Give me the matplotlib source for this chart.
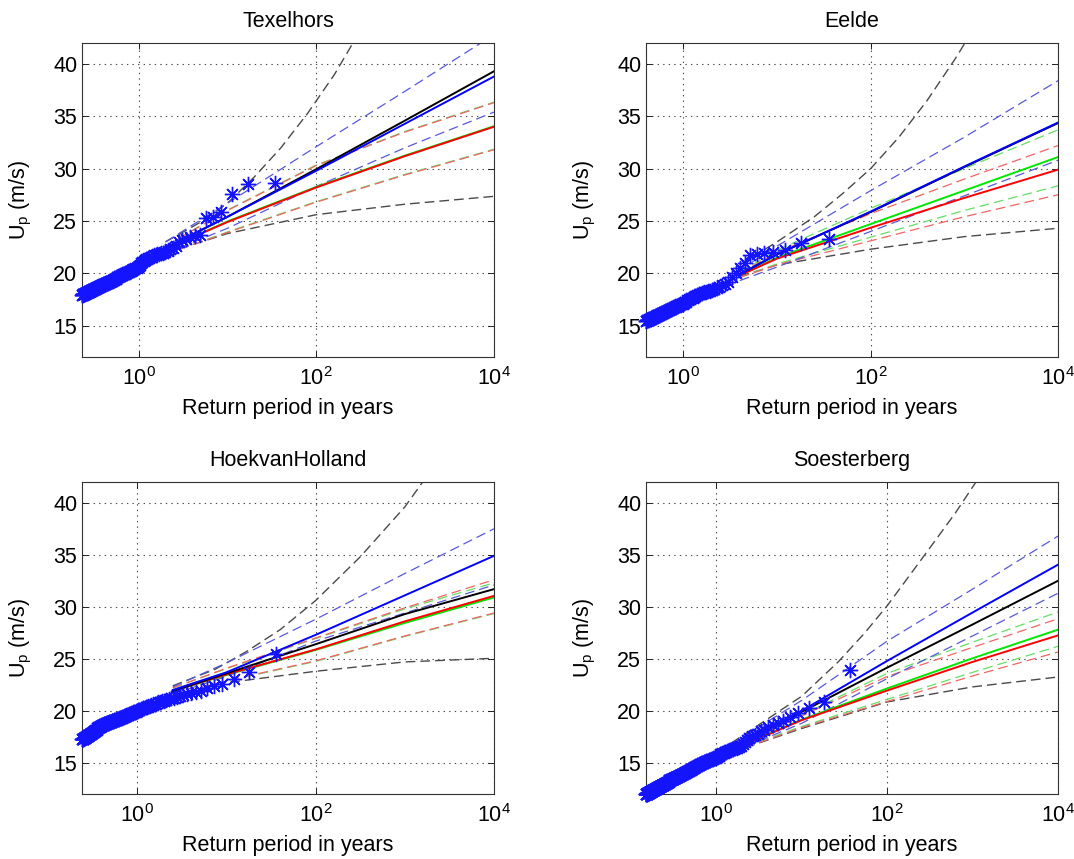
import numpy as np
import matplotlib
matplotlib.use("Agg")
import matplotlib.pyplot as plt
from matplotlib.ticker import NullLocator

plt.rcParams.update({
    "font.family": ["Liberation Sans", "DejaVu Sans"],
    "font.size": 15.5,
    "mathtext.fontset": "custom",
    "mathtext.rm": "Liberation Sans",
    "mathtext.it": "Liberation Sans:italic",
    "mathtext.bf": "Liberation Sans:bold",
    "lines.scale_dashes": False,
})

# ---------------------------------------------------------------- Texelhors
texel_years = 34.0
texel_speed = [
    28.6, 28.5, 27.6, 25.9, 25.4, 25.3,
    23.7, 23.6, 23.5, 23.3, 23.2, 23.0,
    22.6, 22.4, 22.3, 22.1, 22.0,
    21.9, 21.9, 21.8, 21.8, 21.7, 21.7, 21.6, 21.6, 21.5, 21.5, 21.4,
    21.3, 21.2, 21.1, 21.0, 20.8, 20.7,
    20.6, 20.5, 20.5, 20.4, 20.4, 20.3, 20.3, 20.2, 20.2, 20.1,
    20.1, 20.1, 20.0, 20.0, 19.9, 19.9, 19.9, 19.8, 19.8, 19.8,
    19.7, 19.7, 19.7, 19.6, 19.6, 19.6, 19.5, 19.5, 19.5, 19.5,
    19.4, 19.4, 19.4, 19.3, 19.3, 19.3, 19.3, 19.2, 19.2, 19.2,
    19.2, 19.1, 19.1, 19.1, 19.1, 19.1, 19.0, 19.0, 19.0, 19.0,
    19.0, 18.9, 18.9, 18.9, 18.9, 18.9, 18.8, 18.8, 18.8, 18.8,
    18.8, 18.7, 18.7, 18.7, 18.7, 18.7, 18.6, 18.6, 18.6, 18.6,
    18.6, 18.5, 18.5, 18.5, 18.5, 18.5, 18.5, 18.4, 18.4, 18.4,
    18.4, 18.4, 18.4, 18.3, 18.3, 18.3, 18.3, 18.3, 18.3, 18.2,
    18.2, 18.2, 18.2, 18.2, 18.2, 18.2, 18.1, 18.1, 18.1, 18.1,
    18.1, 18.1, 18.1, 18.0, 18.0, 18.0, 18.0, 18.0, 18.0, 18.0,
    18.0, 17.9, 17.9, 17.9,
]
texel_fit_T = [2, 10, 100, 1000, 10000]
texel_black = [22.4, 25.4, 29.95, 34.6, 39.3]
texel_black_lo = [21.9, 23.8, 25.6, 26.6, 27.35]
texel_black_hi_T = [2, 5, 10, 20, 40, 80, 160, 250, 400]
texel_black_hi = [23.0, 24.9, 26.7, 29.2, 32.0, 35.3, 39.0, 41.8, 44.8]
texel_blue = [22.4, 25.4, 29.8, 34.3, 38.8]
texel_blue_lo = [21.9, 24.3, 28.3, 32.0, 35.4]
texel_blue_hi = [23.0, 26.7, 32.1, 37.4, 42.8]
texel_red = [22.3, 24.9, 28.2, 31.2, 34.0]
texel_red_lo = [21.8, 23.9, 26.8, 29.4, 31.8]
texel_red_hi = [22.6, 26.0, 30.3, 33.5, 36.3]
texel_green = [22.3, 24.95, 28.25, 31.25, 34.05]
texel_green_lo = [21.8, 23.95, 26.85, 29.45, 31.85]
texel_green_hi = [22.6, 26.05, 30.35, 33.55, 36.35]

# -------------------------------------------------------------------- Eelde
eelde_years = 36.3
eelde_speed = [
    23.3, 22.9, 22.2, 22.0, 21.9, 21.8, 21.7, 21.0, 20.5, 20.0, 19.6,
    19.2, 19.0, 18.9, 18.7, 18.6, 18.5, 18.4, 18.3, 18.3, 18.2, 18.2,
    18.1, 18.0, 18.0,
    17.9, 17.8, 17.7, 17.6, 17.6, 17.5, 17.5, 17.4, 17.3, 17.3, 17.2,
    17.1, 17.1, 17.1, 17.0, 17.0, 16.9, 16.9, 16.8, 16.8, 16.8,
    16.7, 16.7, 16.6, 16.6, 16.6, 16.5, 16.5, 16.4, 16.4, 16.4,
    16.3, 16.3, 16.3, 16.2, 16.2, 16.2, 16.1, 16.1, 16.1, 16.0,
    16.0, 16.0, 16.0, 15.9, 15.9, 15.9, 15.8, 15.8, 15.8, 15.8,
    15.7, 15.7, 15.7, 15.7, 15.6, 15.6, 15.6, 15.6, 15.5, 15.5,
    15.5, 15.5, 15.5, 15.4, 15.4,
]
eelde_fit_T = [4, 10, 100, 1000, 10000]
eelde_black = [19.9, 21.8, 25.85, 30.15, 34.35]
eelde_black_lo = [19.7, 20.8, 22.3, 23.5, 24.3]
eelde_black_hi_T = [4, 10, 25, 50, 100, 200, 400, 800, 1000]
eelde_black_hi = [20.8, 23.0, 25.4, 27.6, 30.0, 33.0, 36.5, 40.5, 41.9]
eelde_blue = [19.9, 21.8, 25.9, 30.2, 34.4]
eelde_blue_lo = [19.3, 20.6, 24.0, 27.4, 30.8]
eelde_blue_hi = [20.3, 22.6, 27.9, 33.0, 38.4]
eelde_red = [19.8, 21.4, 24.35, 27.2, 29.9]
eelde_red_lo = [19.6, 20.8, 23.1, 25.4, 27.5]
eelde_red_hi = [20.0, 22.0, 25.7, 29.0, 32.2]
eelde_green = [19.8, 21.5, 24.7, 27.9, 31.1]
eelde_green_lo = [19.6, 20.9, 23.45, 26.0, 28.35]
eelde_green_hi = [20.1, 22.2, 26.2, 30.0, 33.7]

# ----------------------------------------------------------- HoekvanHolland
hoek_years = 36.0
hoek_speed = [
    25.5, 23.7, 23.1, 22.6, 22.4, 22.2, 21.9, 21.8, 21.7, 21.6, 21.5,
    21.4, 21.3, 21.2, 21.2, 21.1, 21.0, 20.9,
    20.9, 20.8, 20.8, 20.7, 20.7, 20.6, 20.6, 20.5, 20.5, 20.4, 20.4,
    20.3, 20.3, 20.2, 20.2, 20.1, 20.1, 20.0,
    19.9, 19.9, 19.9, 19.8, 19.8, 19.8, 19.7, 19.7, 19.7, 19.6, 19.6,
    19.5, 19.5, 19.5, 19.4,
    19.4, 19.4, 19.3, 19.3, 19.3, 19.3, 19.2, 19.2, 19.2, 19.2, 19.1,
    19.1, 19.1, 19.1, 19.0, 19.0, 19.0, 19.0, 19.0, 18.9, 18.9,
    18.9, 18.9, 18.9, 18.8, 18.8, 18.8, 18.8, 18.8, 18.7, 18.7, 18.7,
    18.7, 18.7, 18.6, 18.6, 18.6, 18.6, 18.6,
    18.5, 18.5, 18.5, 18.5, 18.4, 18.4, 18.4, 18.4, 18.3, 18.3,
    18.3, 18.3, 18.2, 18.2, 18.2, 18.2, 18.1, 18.1, 18.1, 18.1,
    18.0, 18.0, 18.0, 18.0, 17.9, 17.9, 17.9, 17.9, 17.8, 17.8,
    17.8, 17.8, 17.8, 17.7, 17.7, 17.7, 17.7, 17.7, 17.6, 17.6,
    17.6, 17.6, 17.6, 17.5, 17.5, 17.5, 17.5, 17.5, 17.4, 17.4,
    17.4, 17.4, 17.4, 17.4, 17.3, 17.3, 17.3, 17.3, 17.3, 17.3,
]
hoek_fit_T = [2.5, 10, 100, 1000, 10000]
hoek_black = [21.9, 23.6, 26.4, 29.3, 31.7]
hoek_black_lo = [21.5, 22.7, 23.8, 24.7, 25.05]
hoek_black_hi_T = [2.5, 7.5, 16.8, 40, 100, 316, 1000, 1780]
hoek_black_hi = [22.4, 24.0, 25.7, 27.8, 30.6, 34.8, 39.6, 42.6]
hoek_blue = [22.0, 23.7, 27.3, 31.1, 34.9]
hoek_blue_lo = [21.6, 23.3, 26.7, 29.4, 32.1]
hoek_blue_hi = [22.3, 24.6, 28.8, 33.2, 37.5]
hoek_red = [21.9, 23.5, 25.9, 28.6, 31.05]
hoek_red_lo = [21.5, 22.9, 24.8, 27.2, 29.4]
hoek_red_hi = [22.2, 24.1, 27.0, 29.9, 32.6]
hoek_green = [21.9, 23.45, 25.85, 28.45, 30.9]
hoek_green_lo = [21.5, 22.85, 24.75, 27.15, 29.35]
hoek_green_hi = [22.2, 24.05, 26.95, 29.8, 32.3]

# -------------------------------------------------------------- Soesterberg
soest_years = 36.5
soest_speed = [
    23.9, 20.8, 20.3, 19.8, 19.4, 19.0, 18.8, 18.6, 18.4, 18.2, 18.1, 17.8,
    17.7, 17.6, 17.4, 17.2, 17.0, 16.8,
    16.6, 16.5, 16.4, 16.4, 16.3, 16.3, 16.2, 16.2, 16.1, 16.0, 16.0, 15.9,
    15.9, 15.8, 15.8, 15.7, 15.7, 15.6,
    15.5, 15.5, 15.5, 15.4, 15.4, 15.4, 15.3, 15.3, 15.3, 15.2,
    15.2, 15.2, 15.1, 15.1, 15.1, 15.0, 15.0, 15.0, 14.9, 14.9,
    14.9, 14.8, 14.8, 14.8, 14.7, 14.7, 14.7, 14.6, 14.6, 14.6,
    14.5, 14.5, 14.5, 14.4, 14.4, 14.4, 14.3,
    14.3, 14.3, 14.3, 14.2, 14.2, 14.2, 14.2, 14.1, 14.1, 14.1,
    14.1, 14.0, 14.0, 14.0, 14.0, 13.9, 13.9, 13.9, 13.9, 13.9,
    13.8, 13.8, 13.8, 13.8, 13.8, 13.7, 13.7, 13.7, 13.7, 13.7,
    13.6, 13.6, 13.6, 13.6, 13.6, 13.6, 13.5, 13.5, 13.5, 13.5,
    13.5, 13.5, 13.4, 13.4, 13.4, 13.4, 13.4, 13.4, 13.4,
    13.4, 13.4, 13.3, 13.3, 13.3, 13.3, 13.3,
    13.3, 13.3, 13.2, 13.2, 13.2, 13.2, 13.2, 13.2, 13.1, 13.1,
    13.1, 13.1, 13.1, 13.1, 13.1, 13.0, 13.0, 13.0, 13.0, 13.0,
    13.0, 13.0, 12.9, 12.9, 12.9, 12.9, 12.9, 12.9, 12.9, 12.9,
    12.9, 12.8, 12.8, 12.8, 12.8, 12.8, 12.8, 12.8, 12.8, 12.7,
    12.7, 12.7, 12.7, 12.7, 12.7, 12.7, 12.7, 12.6, 12.6, 12.6,
    12.6, 12.6, 12.6, 12.6, 12.6, 12.6, 12.5, 12.5, 12.5, 12.5,
    12.5, 12.5, 12.5, 12.5, 12.5, 12.4, 12.4, 12.4, 12.4, 12.4,
    12.4, 12.4, 12.4, 12.4, 12.4, 12.3, 12.3, 12.3, 12.3, 12.3,
    12.3, 12.3, 12.3, 12.3, 12.3, 12.2, 12.2, 12.2, 12.2, 12.2,
    12.2, 12.2, 12.2, 12.2, 12.2, 12.1, 12.1, 12.1, 12.1, 12.1,
    12.1, 12.1, 12.1, 12.1, 12.1, 12.1, 12.0, 12.0, 12.0, 12.0,
    12.0, 12.0, 12.0, 12.0,
]
soest_fit_T = [1.5, 10, 100, 1000, 10000]
soest_black = [16.4, 19.9, 24.15, 28.3, 32.5]
soest_black_lo = [16.0, 18.3, 20.85, 22.3, 23.25]
soest_black_hi_T = [1.5, 10, 26.7, 54.8, 100, 254, 626, 1180]
soest_black_hi = [16.9, 21.4, 24.7, 27.5, 30.1, 34.6, 39.0, 42.4]
soest_blue = [16.4, 20.0, 24.8, 29.45, 34.05]
soest_blue_lo = [16.0, 18.8, 23.1, 27.2, 31.3]
soest_blue_hi = [16.8, 21.0, 26.7, 31.7, 36.8]
soest_red = [16.2, 19.1, 21.95, 24.7, 27.25]
soest_red_lo = [16.0, 18.4, 20.9, 23.35, 25.65]
soest_red_hi = [16.3, 19.5, 23.3, 26.1, 28.85]
soest_green = [16.3, 19.15, 22.15, 25.05, 27.8]
soest_green_lo = [16.1, 18.5, 21.1, 23.7, 26.2]
soest_green_hi = [16.4, 19.6, 23.6, 26.6, 29.5]

station_names = ["Texelhors", "Eelde", "HoekvanHolland", "Soesterberg"]
x_ticks = [1, 100, 10000]
y_ticks = [15, 20, 25, 30, 35, 40]

stations = [
    dict(name=station_names[0], years=texel_years, speed=texel_speed,
         T=texel_fit_T, hiT=texel_black_hi_T,
         black=(texel_black, texel_black_lo, texel_black_hi),
         blue=(texel_blue, texel_blue_lo, texel_blue_hi),
         red=(texel_red, texel_red_lo, texel_red_hi),
         green=(texel_green, texel_green_lo, texel_green_hi)),
    dict(name=station_names[1], years=eelde_years, speed=eelde_speed,
         T=eelde_fit_T, hiT=eelde_black_hi_T,
         black=(eelde_black, eelde_black_lo, eelde_black_hi),
         blue=(eelde_blue, eelde_blue_lo, eelde_blue_hi),
         red=(eelde_red, eelde_red_lo, eelde_red_hi),
         green=(eelde_green, eelde_green_lo, eelde_green_hi)),
    dict(name=station_names[2], years=hoek_years, speed=hoek_speed,
         T=hoek_fit_T, hiT=hoek_black_hi_T,
         black=(hoek_black, hoek_black_lo, hoek_black_hi),
         blue=(hoek_blue, hoek_blue_lo, hoek_blue_hi),
         red=(hoek_red, hoek_red_lo, hoek_red_hi),
         green=(hoek_green, hoek_green_lo, hoek_green_hi)),
    dict(name=station_names[3], years=soest_years, speed=soest_speed,
         T=soest_fit_T, hiT=soest_black_hi_T,
         black=(soest_black, soest_black_lo, soest_black_hi),
         blue=(soest_blue, soest_blue_lo, soest_blue_hi),
         red=(soest_red, soest_red_lo, soest_red_hi),
         green=(soest_green, soest_green_lo, soest_green_hi)),
]

# axes boxes in pixels: left, top, width, height
W, H = 1074, 859
boxes = [(82, 43, 412, 314), (646, 43, 412, 314),
         (82, 482, 412, 312), (646, 482, 412, 312)]

solid_col = {"black": "#000000", "blue": "#0000ff", "red": "#ff0000", "green": "#00e600"}
dash_col = {"black": "#4a4a4a", "blue": "#5858dc", "red": "#f06464", "green": "#66dd66"}
DASH = (7, 3.6)

fig = plt.figure(figsize=(W / 100, H / 100), dpi=100)
fig.patch.set_facecolor("white")

for st, (l, t, w, h) in zip(stations, boxes):
    ax = fig.add_axes([l / W, 1 - (t + h) / H, w / W, h / H])
    ax.set_xscale("log")

    T = st["T"]
    # confidence bounds
    ax.plot(T, st["black"][1], color=dash_col["black"], lw=1.0, dashes=DASH)
    ax.plot(st["hiT"], st["black"][2], color=dash_col["black"], lw=1.0, dashes=DASH)
    for key in ("green", "red", "blue"):
        ax.plot(T, st[key][1], color=dash_col[key], lw=0.9, dashes=DASH)
        ax.plot(T, st[key][2], color=dash_col[key], lw=0.9, dashes=DASH)
    # fitted return levels
    for key in ("green", "red", "black", "blue"):
        ax.plot(T, st[key][0], color=solid_col[key], lw=1.4)

    # empirical return periods from the ranked sample
    speed = np.asarray(st["speed"])
    rank = np.arange(1, speed.size + 1)
    Temp = st["years"] / rank
    ax.plot(Temp, speed, linestyle="none", marker=(8, 2, 0), ms=11,
            mec="#1414ff", mew=1.0, clip_on=False, zorder=5)

    ax.set_xlim(Temp.min(), 1e4)
    ax.set_ylim(12, 42)
    ax.set_xticks(x_ticks)
    ax.xaxis.set_minor_locator(NullLocator())
    ax.set_yticks(y_ticks)
    ax.tick_params(axis="both", direction="in", top=True, right=True,
                   length=4, width=0.6, colors="black")
    ax.tick_params(axis="x", pad=7)
    ax.tick_params(axis="y", pad=3.5)
    ax.grid(True, which="major", linestyle=(0, (1, 3)), color="0.3", lw=0.8)
    for sp in ax.spines.values():
        sp.set_color("0.2")
        sp.set_linewidth(0.8)

    ax.set_title(st["name"], pad=11.5, fontsize=15.5)
    ax.set_xlabel("Return period in years")
    ax.set_ylabel(r"U$_{\rm p}$ (m/s)")
    ax.xaxis.set_label_coords(0.5, -41 / h)
    ax.yaxis.set_label_coords(-48 / w, 0.5)

fig.savefig("out.png", dpi=100, facecolor="white")
